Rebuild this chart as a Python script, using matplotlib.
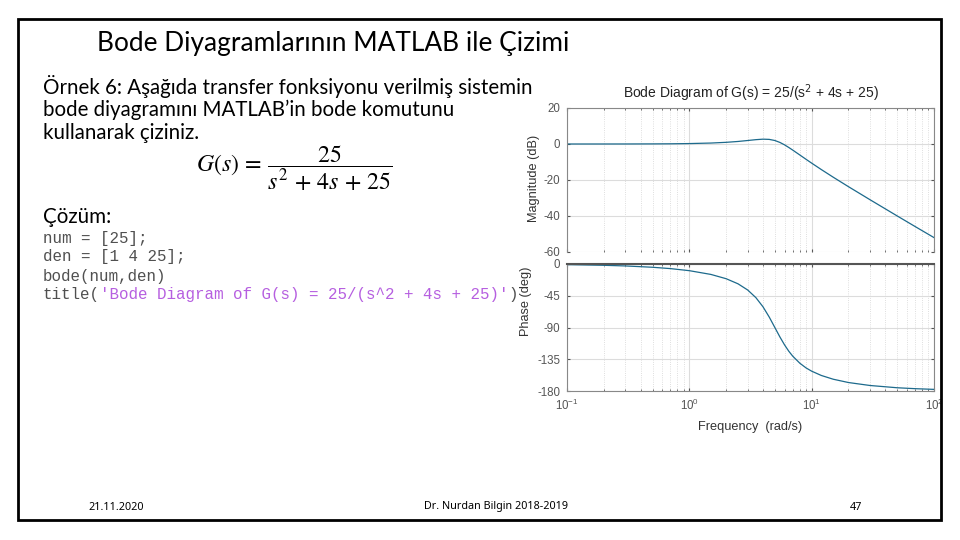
import matplotlib
matplotlib.use("Agg")
import matplotlib.pyplot as plt
from matplotlib.patches import Rectangle
from matplotlib.ticker import LogLocator, NullFormatter

# frequencies (rad/s) and values
freq = [0.1, 0.2, 0.3, 0.5, 0.7, 1.0, 1.5, 2.0, 2.5, 3.0, 3.5, 4.0, 4.5, 5.0,
        5.5, 6.0, 6.5, 7.0, 8.0, 9.0, 10.0, 12.0, 15.0, 20.0, 30.0, 50.0, 70.0, 100.0]
mag_db = [0.0, 0.01, 0.02, 0.06, 0.11, 0.24, 0.53, 0.93, 1.41, 1.94, 2.41, 2.68, 2.56, 1.94,
          0.87, -0.47, -1.93, -3.38, -6.10, -8.51, -10.63, -14.21, -18.44, -23.72, -30.96,
          -39.96, -45.83, -52.0]
phase_deg = [-0.92, -1.84, -2.76, -4.62, -6.52, -9.46, -14.77, -20.85, -28.07, -36.87, -47.68,
             -60.64, -75.22, -90.0, -103.4, -114.6, -123.6, -130.6, -140.6, -147.3, -151.9,
             -158.0, -163.3, -168.0, -172.2, -175.4, -176.7, -177.7]

mag_ticks = [20, 0, -20, -40, -60]
phase_ticks = [0, -45, -90, -135, -180]

slide_title = "Bode Diyagramlarının MATLAB ile Çizimi"
body_lines = ["Örnek 6: Aşağıda transfer fonksiyonu verilmiş sistemin",
              "bode diyagramını MATLAB\u2019in bode komutunu",
              "kullanarak çiziniz."]
code_lines = ["num = [25];", "den = [1 4 25];", "bode(num,den)"]

plt.rcParams["axes.unicode_minus"] = False

W, H = 960, 540
fig = plt.figure(figsize=(9.6, 5.4), dpi=100)
fig.patch.set_facecolor("white")


def fx(px):
    return px / W


def fy(py):
    return 1 - py / H


# slide frame
fig.patches.append(Rectangle((fx(18), fy(520)), fx(941) - fx(18), fy(19) - fy(520),
                             transform=fig.transFigure, fill=False, lw=2.0,
                             edgecolor="black", zorder=10))

body_font = ["Lato", "DejaVu Sans"]
fig.text(fx(97), fy(44), slide_title, fontsize=18.9, family=body_font, va="center")
for i, line in enumerate(body_lines):
    fig.text(fx(43), fy(86 + i * 23.5), line, fontsize=14.8, family=body_font, va="center")
fig.text(fx(196), fy(168), r"$G(s)\,=\,\dfrac{25}{s^2\,+\,4s\,+\,25}$", fontsize=17.2,
         va="center", math_fontfamily="stix")
fig.text(fx(43), fy(217), "Çözüm:", fontsize=14.8, family=body_font, va="center")

mono = "Liberation Mono"
code_fs = 11.4
cw = 0.6 * code_fs * 100 / 72
for i, line in enumerate(code_lines):
    fig.text(fx(43), fy(238 + i * 19), line, fontsize=code_fs, family=mono, color="#505050",
             va="center")
y_t = fy(295)
fig.text(fx(43), y_t, "title(", fontsize=code_fs, family=mono, color="#505050", va="center")
fig.text(fx(43 + 6 * cw), y_t, "'Bode Diagram of G(s) = 25/(s^2 + 4s + 25)'", fontsize=code_fs,
         family=mono, color="#b65fe0", va="center")
fig.text(fx(43 + 49 * cw), y_t, ")", fontsize=code_fs, family=mono, color="#505050", va="center")

# footer
foot = ["Noto Sans", "DejaVu Sans"]
fig.text(fx(88), fy(507), "21.11.2020", fontsize=7.8, family=foot, va="center")
fig.text(fx(496), fy(507), "Dr. Nurdan Bilgin 2018-2019", fontsize=7.8, family=foot,
         va="center", ha="center")
fig.text(fx(856), fy(507), "47", fontsize=7.8, family=foot, va="center", ha="center")

# Bode axes
line_col = "#1d6a8c"
ax_font = ["Liberation Sans", "DejaVu Sans"]
ax1 = fig.add_axes([fx(567), fy(252), fx(934) - fx(567), fy(108) - fy(252)])
ax2 = fig.add_axes([fx(567), fy(391), fx(934) - fx(567), fy(264) - fy(391)])

for ax in (ax1, ax2):
    ax.set_xscale("log")
    ax.set_xlim(0.1, 100)
    ax.xaxis.set_minor_locator(LogLocator(base=10, subs=range(2, 10)))
    ax.xaxis.set_minor_formatter(NullFormatter())
    ax.grid(True, which="major", color="#dcdcdc", lw=0.8)
    ax.grid(True, which="minor", color="#d4d4d4", lw=0.6, ls=":")
    ax.tick_params(which="both", direction="in", labelsize=8.3, colors="#555555",
                   top=True, right=True, length=2.5, pad=5)
    ax.tick_params(which="minor", length=1.5)
    for s in ax.spines.values():
        s.set_color("#888888")
        s.set_linewidth(0.8)
    for lab in ax.get_xticklabels() + ax.get_yticklabels():
        lab.set_family(ax_font)

ax1.plot(freq, mag_db, color=line_col, lw=0.9)
ax1.set_ylim(-60, 20)
ax1.set_yticks(mag_ticks)
ax1.tick_params(labelbottom=False)
ax1.set_title("Bode Diagram of G(s) = 25/(s$^2$ + 4s + 25)", fontsize=10,
              family=ax_font, pad=7, color="#222222")
ax1.spines["bottom"].set_visible(False)

ax2.plot(freq, phase_deg, color=line_col, lw=0.9)
ax2.set_ylim(-180, 0)
ax2.set_yticks(phase_ticks)
ax2.spines["top"].set_color("#555555")
ax2.spines["top"].set_linewidth(1.5)
ax2.set_xlabel("Frequency  (rad/s)", fontsize=9.2, family=ax_font, color="#333333", labelpad=6)

fig.text(fx(534), fy(178), "Magnitude (dB)", rotation=90, fontsize=9.2, family=ax_font,
         ha="center", va="center", color="#333333")
fig.text(fx(526), fy(301), "Phase (deg)", rotation=90, fontsize=9.2, family=ax_font,
         ha="center", va="center", color="#333333")

fig.savefig("out.png", dpi=100, facecolor="white")
